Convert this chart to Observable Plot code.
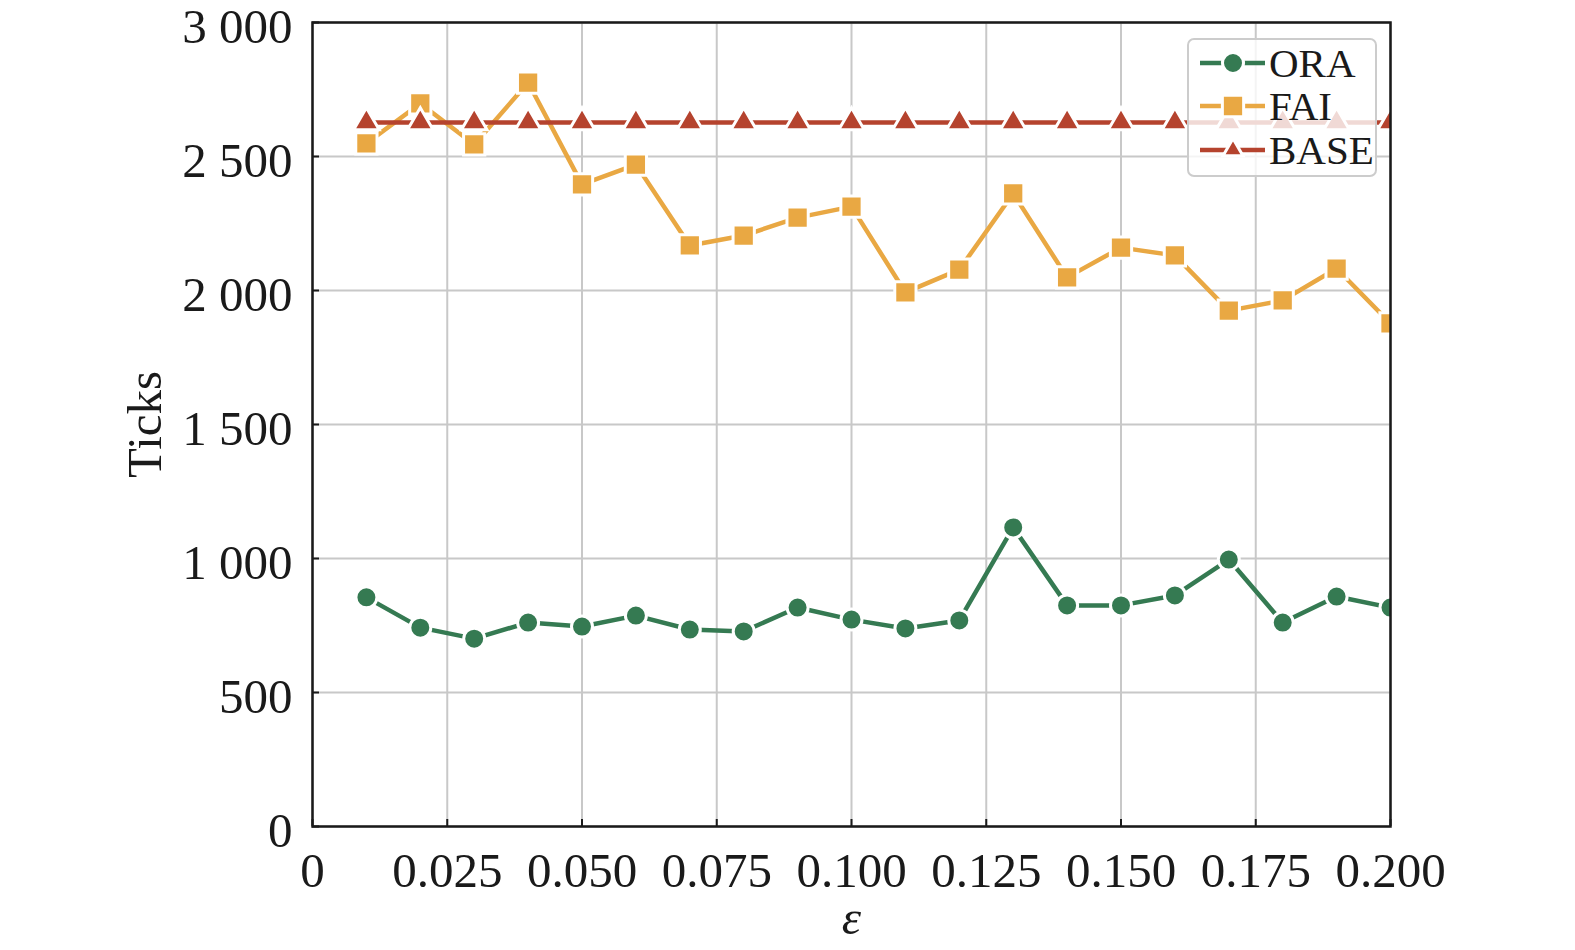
<!DOCTYPE html>
<html><head><meta charset="utf-8">
<script src="https://cdn.jsdelivr.net/npm/d3@7"></script>
<script src="https://cdn.jsdelivr.net/npm/@observablehq/plot@0.6"></script>
<style>
html,body{margin:0;padding:0;background:#fff;overflow:hidden;}
#wrap{position:relative;width:1575px;height:950px;}
#wrap > svg{max-width:none !important;display:block;}
#legend{position:absolute;left:1187px;top:38px;width:186px;height:135px;border:2px solid #cccccc;border-radius:7px;background:rgba(255,255,255,0.8);}
#legend svg{position:absolute;left:0;top:0;}
</style>
</head><body><div id="wrap"></div>
<script>
const eps  = [0.01,0.02,0.03,0.04,0.05,0.06,0.07,0.08,0.09,0.10,0.11,0.12,0.13,0.14,0.15,0.16,0.17,0.18,0.19,0.20];
const ora  = [855,742,701,761,746,787,735,728,817,772,739,769,1116,825,825,862,996,761,858,817];
const fai  = [2549,2698,2545,2776,2396,2470,2168,2205,2272,2313,1993,2078,2362,2049,2160,2131,1925,1963,2082,1877];
const base = [2627,2627,2627,2627,2627,2627,2627,2627,2627,2627,2627,2627,2627,2627,2627,2627,2627,2627,2627,2627];
const xTicks = [0,0.025,0.05,0.075,0.1,0.125,0.15,0.175,0.2];
const yTicks = [0,500,1000,1500,2000,2500,3000];
const seriesNames = ["ORA","FAI","BASE"];
const seriesValues = [ora, fai, base];
const seriesColors = ["#357a52","#e9a843","#b5432e"];
const seriesSymbols = ["circle","square","triangle"];
const seriesR = [10.5, 12, 9.5];

const font = "'Liberation Serif', 'Times New Roman', serif";
const fmtY = d => d3.format(",")(d).replace(/,/g, " ");
const fmtX = d => d === 0 ? "0" : d.toFixed(3);

const seriesMarks = [];
seriesNames.forEach((name, i) => {
  const rows = eps.map((e, j) => ({eps: e, value: seriesValues[i][j], series: name}));
  seriesMarks.push(Plot.line(rows, {x: "eps", y: "value", stroke: seriesColors[i], strokeWidth: 4.5, clip: true}));
  seriesMarks.push(Plot.dot(rows, {x: "eps", y: "value", fill: seriesColors[i], stroke: "white", strokeWidth: 3, symbol: seriesSymbols[i], r: seriesR[i], clip: true}));
});

const plot = Plot.plot({
  width: 1575, height: 950,
  marginLeft: 312, marginRight: 185, marginTop: 22, marginBottom: 124,
  style: {fontFamily: font, fontSize: "49px", background: "white", color: "#1a1a1a"},
  x: {domain: [0, 0.2]},
  y: {domain: [0, 3000]},
  marks: [
    Plot.gridX(xTicks, {stroke: "#c8c8c8", strokeOpacity: 1, strokeWidth: 2}),
    Plot.gridY(yTicks, {stroke: "#c8c8c8", strokeOpacity: 1, strokeWidth: 2}),
    ...seriesMarks,
    Plot.axisX(xTicks, {tickSize: -7, tickPadding: 33, tickFormat: fmtX, label: null, strokeWidth: 2, fontSize: 49}),
    Plot.axisY(yTicks, {tickSize: -7, fill: "none", tickFormat: fmtY, label: null, strokeWidth: 2}),
    Plot.axisY(yTicks, {tickSize: 0, tickPadding: 20, dy: 5, tickFormat: fmtY, label: null, fontSize: 49}),
    Plot.frame({stroke: "#1a1a1a", strokeWidth: 2.5}),
    Plot.text(["Ticks"], {text: d => d, frameAnchor: "left", textAnchor: "middle", lineAnchor: "middle", dx: -167, rotate: -90, fontSize: 49}),
    Plot.text(["ε"], {text: d => d, frameAnchor: "bottom", textAnchor: "middle", lineAnchor: "middle", dy: 92, fontStyle: "italic", fontSize: 49})
  ]
});
const wrap = document.getElementById("wrap");
wrap.appendChild(plot);

// legend
const leg = document.createElement("div");
leg.id = "legend";
wrap.appendChild(leg);
const svg = d3.select(leg).append("svg").attr("width", 186).attr("height", 135);
const rowsY = [23, 66, 110];
const symMap = {circle: d3.symbolCircle, square: d3.symbolSquare, triangle: d3.symbolTriangle2};
seriesNames.forEach((name, i) => {
  const g = svg.append("g").attr("transform", `translate(0,${rowsY[i]})`);
  g.append("line").attr("x1", 11).attr("x2", 76).attr("y1", 0).attr("y2", 0)
    .attr("stroke", seriesColors[i]).attr("stroke-width", 4.5);
  g.append("path").attr("transform", "translate(44,0)")
    .attr("d", d3.symbol(symMap[seriesSymbols[i]], Math.PI * seriesR[i] * seriesR[i])())
    .attr("fill", seriesColors[i]).attr("stroke", "white").attr("stroke-width", 3);
  g.append("text").attr("x", 80).attr("y", 0).attr("dy", "0.35em")
    .attr("font-family", font).attr("font-size", 41).attr("fill", "#1a1a1a").text(name);
});
</script>
</body></html>
